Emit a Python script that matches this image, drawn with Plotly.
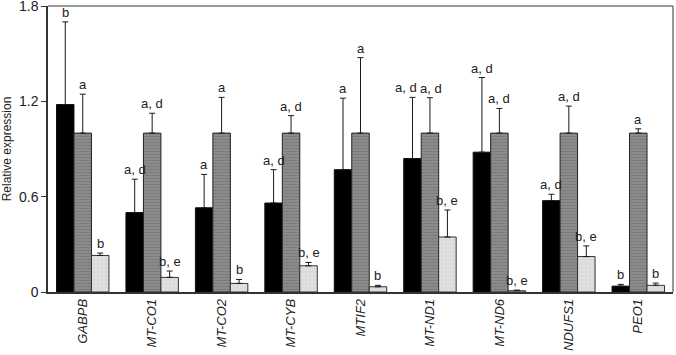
import plotly.graph_objects as go

genes = ["GABPB", "MT-CO1", "MT-CO2", "MT-CYB", "MTIF2", "MT-ND1", "MT-ND6", "NDUFS1", "PEO1"]

black_vals = [1.18, 0.50, 0.53, 0.56, 0.77, 0.84, 0.88, 0.575, 0.037]
black_err = [0.52, 0.21, 0.21, 0.21, 0.45, 0.385, 0.47, 0.04, 0.011]
black_lbl = ["b", "a, d", "a", "a, d", "a", "a, d", "a, d", "a, d", "b"]

gray_vals = [1.0, 1.0, 1.0, 1.0, 1.0, 1.0, 1.0, 1.0, 1.0]
gray_err = [0.245, 0.125, 0.225, 0.11, 0.475, 0.223, 0.155, 0.17, 0.027]
gray_lbl = ["a", "a, d", "a", "a, d", "a", "a, d", "a, d", "a, d", "a"]

light_vals = [0.23, 0.092, 0.054, 0.165, 0.033, 0.346, 0.008, 0.223, 0.042]
light_err = [0.015, 0.04, 0.025, 0.021, 0.009, 0.17, 0.004, 0.067, 0.014]
light_lbl = ["b", "b, e", "b", "b, e", "b", "b, e", "b, e", "b, e", "b"]

y_ticks = [0, 0.6, 1.2, 1.8]
y_ticktext = ["0", "0.6", "1.2", "1.8"]

xs = list(range(len(genes)))
BARGAP = 0.245
bw = (1 - BARGAP) / 3
FONT = "Liberation Sans, Arial"

fig = go.Figure()

series = [
    (black_vals, black_err, dict(color="#000000", line=dict(color="#111111", width=1))),
    (gray_vals, gray_err, dict(color="#828282", line=dict(color="#222222", width=1),
                               pattern=dict(shape="-", size=3, solidity=0.4,
                                            fgcolor="#6c6c6c", bgcolor="#8c8c8c"))),
    (light_vals, light_err, dict(color="#dcdcdc", line=dict(color="#333333", width=1),
                                 pattern=dict(shape="+", size=4, solidity=0.3,
                                              fgcolor="#c2c2c2", bgcolor="#e2e2e2"))),
]

for vals, errs, marker in series:
    fig.add_trace(go.Bar(
        x=xs, y=vals, marker=marker,
        error_y=dict(type="data", array=errs, arrayminus=[0] * len(errs), symmetric=False,
                     color="#1a1a1a", thickness=1, width=3),
        showlegend=False,
    ))

annotations = []
for k, (vals, errs, lbls) in enumerate([(black_vals, black_err, black_lbl),
                                        (gray_vals, gray_err, gray_lbl),
                                        (light_vals, light_err, light_lbl)]):
    for i in xs:
        # nudge side-by-side labels at equal heights apart (as in the reference)
        xshift = 0
        if genes[i] == "MT-ND1" and k == 0:
            xshift = -6
        if genes[i] == "MT-ND1" and k == 1:
            xshift = 1
        annotations.append(dict(
            x=i + (k - 1) * bw, y=vals[i] + errs[i], text=lbls[i],
            xref="x", yref="y", showarrow=False, yanchor="bottom", yshift=0,
            xshift=xshift,
            font=dict(family=FONT, size=13, color="#222222"),
        ))

fig.update_layout(
    width=676, height=355,
    margin=dict(l=48, r=3, t=6, b=63),
    paper_bgcolor="white", plot_bgcolor="white",
    barmode="group", bargap=BARGAP, bargroupgap=0,
    annotations=annotations,
    font=dict(family=FONT, color="#222222"),
    shapes=[
        dict(type="line", xref="paper", yref="paper", x0=0, x1=1, y0=1, y1=1,
             line=dict(color="#777777", width=1.5)),
        dict(type="line", xref="paper", yref="paper", x0=1, x1=1, y0=0, y1=1,
             line=dict(color="#777777", width=1.5)),
    ],
)

fig.update_xaxes(
    range=[-0.5, len(genes) - 0.5], automargin=False,
    tickvals=xs, ticktext=["<i>%s</i>" % g for g in genes],
    tickangle=-90, ticks="", showgrid=False, zeroline=False,
    showline=True, linecolor="#333333", linewidth=1.5,
    tickfont=dict(family=FONT, size=13, color="#222222"),
)
fig.update_yaxes(
    range=[0, 1.8], tickvals=y_ticks, ticktext=y_ticktext, automargin=False,
    ticks="outside", ticklen=5, tickcolor="#333333", ticklabeloverflow="allow",
    showgrid=False, zeroline=False,
    showline=True, linecolor="#333333", linewidth=1.5,
    tickfont=dict(family=FONT, size=14, color="#222222"),
    title=dict(text="Relative expression", standoff=6,
               font=dict(family=FONT, size=12, color="#222222")),
)

fig.write_html("out.html", config={"displayModeBar": False},
               post_script="document.body.style.margin='0';document.body.style.overflow='hidden';")
